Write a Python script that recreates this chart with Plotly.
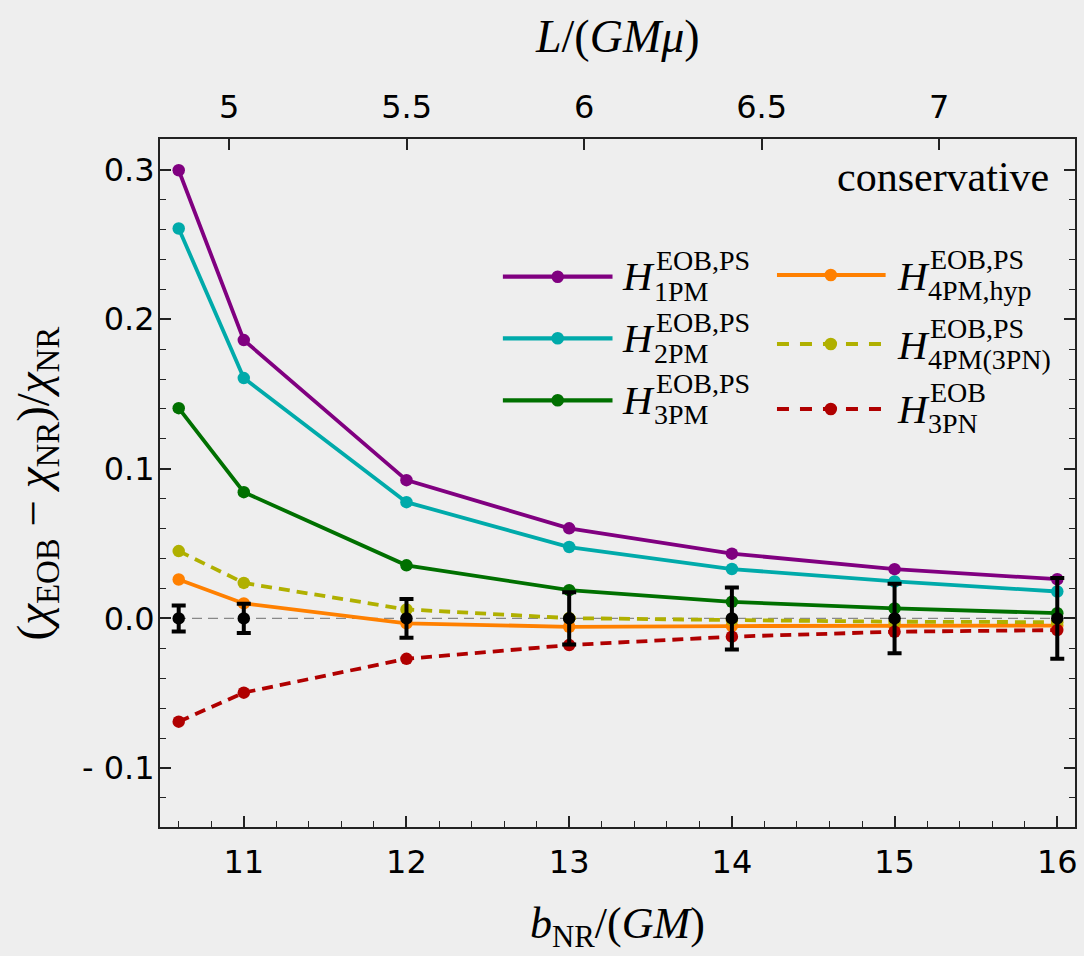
import plotly.graph_objects as go

# ---------------- data ----------------
b_nr = [10.6, 11, 12, 13, 14, 15, 16]
h_1pm = [0.2995, 0.186, 0.0924, 0.0602, 0.0433, 0.0329, 0.0262]
h_2pm = [0.2606, 0.1606, 0.0777, 0.0477, 0.0330, 0.0247, 0.0180]
h_3pm = [0.1405, 0.0844, 0.0355, 0.0189, 0.0111, 0.0067, 0.0035]
h_4pm_hyp = [0.0260, 0.0100, -0.0033, -0.0056, -0.0051, -0.0050, -0.0048]
h_4pm_3pn = [0.0450, 0.0237, 0.0060, 0.0002, -0.0011, -0.0022, -0.0025]
h_3pn = [-0.0690, -0.0496, -0.0270, -0.0178, -0.0122, -0.0089, -0.0078]
nr_val = [0, 0, 0, 0, 0, 0, 0]
nr_err = [0.0087, 0.0098, 0.0130, 0.0175, 0.0207, 0.0232, 0.0270]

x_ticks = [11, 12, 13, 14, 15, 16]
y_ticks = [-0.1, 0.0, 0.1, 0.2, 0.3]
y_ticktext = ["- 0.1", "0.0", "0.1", "0.2", "0.3"]
L_ticks = [5, 5.5, 6, 6.5, 7]
L_ticktext = ["5", "5.5", "6", "6.5", "7"]

# ---------------- layout geometry ----------------
W, H = 1084, 956
ML, MR, MT, MB = 160, 6, 139, 129
PW = W - ML - MR
PH = H - MT - MB


def px(xpix):
    return (xpix - ML) / PW


def py(ypix):
    return (H - MB - ypix) / PH


BG = "#eeeeee"
AX = "#222222"
SERIF = "Liberation Serif"
SANS = "DejaVu Sans"

series = [
    # values, color, dash, sup, sub
    (h_1pm, "#800080", "solid", "EOB,PS", "1PM"),
    (h_2pm, "#00aaaa", "solid", "EOB,PS", "2PM"),
    (h_3pm, "#007000", "solid", "EOB,PS", "3PM"),
    (h_4pm_hyp, "#ff8000", "solid", "EOB,PS", "4PM,hyp"),
    (h_4pm_3pn, "#b0b000", "11px,7px", "EOB,PS", "4PM(3PN)"),
    (h_3pn, "#b00000", "11px,7px", "EOB", "3PN"),
]

fig = go.Figure()

# invisible trace to register the top axis
fig.add_trace(go.Scatter(x=[], y=[], xaxis="x2", yaxis="y", showlegend=False,
                         hoverinfo="skip"))

for vals, col, dash, sup, sub in series:
    fig.add_trace(go.Scatter(
        x=b_nr, y=vals, mode="lines+markers",
        line=dict(color=col, width=3.8, dash=dash),
        marker=dict(color=col, size=12.5),
        showlegend=False,
        name=f"H {sub}",
    ))

fig.add_trace(go.Scatter(
    x=b_nr, y=nr_val, mode="markers",
    marker=dict(color="black", size=12.5),
    error_y=dict(type="data", array=nr_err, color="black", thickness=4, width=7),
    showlegend=False, name="NR",
))

shapes = []
annotations = []

# dashed zero line
shapes.append(dict(type="line", xref="paper", yref="y", x0=0, x1=1, y0=0, y1=0,
                   line=dict(color="#888888", width=1.2, dash="10px,6px"), layer="below"))

# ---------------- custom legend ----------------
leg_pos = [
    # line x0, x1, marker x, line y, H left, H center y
    (504, 614, 559, 276.7, 622, 276.3),
    (504, 614, 559, 338.3, 622, 338.0),
    (504, 614, 559, 400.3, 622, 399.7),
    (779, 888, 833, 275.0, 897, 275.5),
    (779, 888, 833, 344.0, 897, 344.5),
    (779, 888, 833, 409.0, 897, 408.7),
]
for (vals, col, dash, sup, sub), (lx0, lx1, mx, ly, hx, hy) in zip(series, leg_pos):
    ldash = "solid" if dash == "solid" else "12px,11px"
    shapes.append(dict(type="line", xref="paper", yref="paper",
                       x0=px(lx0), x1=px(lx1), y0=py(ly), y1=py(ly),
                       line=dict(color=col, width=4.2, dash=ldash)))
    r = 6.3
    shapes.append(dict(type="circle", xref="paper", yref="paper",
                       x0=px(mx - r), x1=px(mx + r), y0=py(ly + r), y1=py(ly - r),
                       fillcolor=col, line=dict(color=col, width=0)))
    annotations.append(dict(text="<i>H</i>", xref="paper", yref="paper",
                            x=px(hx), y=py(hy), xanchor="left", yanchor="middle",
                            showarrow=False, font=dict(family=SERIF, size=41, color="black")))
    annotations.append(dict(text=sup, xref="paper", yref="paper",
                            x=px(hx + 34), y=py(hy - 16), xanchor="left", yanchor="middle",
                            showarrow=False, font=dict(family=SERIF, size=28, color="black")))
    annotations.append(dict(text=sub, xref="paper", yref="paper",
                            x=px(hx + 32), y=py(hy + 15), xanchor="left", yanchor="middle",
                            showarrow=False, font=dict(family=SERIF, size=28, color="black")))

# "conservative"
annotations.append(dict(text="conservative", xref="paper", yref="paper",
                        x=px(1054), y=py(177), xanchor="right", yanchor="middle",
                        showarrow=False, font=dict(family=SERIF, size=42, color="black")))

# axis titles
annotations.append(dict(text="<i>b</i><sub>NR</sub>/(<i>GM</i>)", xref="paper", yref="paper",
                        x=px(619), y=py(926), xanchor="center", yanchor="middle",
                        showarrow=False, font=dict(family=SERIF, size=44, color="black")))
annotations.append(dict(text="<i>L</i>/(<i>GMμ</i>)", xref="paper", yref="paper",
                        x=px(619), y=py(36), xanchor="center", yanchor="middle",
                        showarrow=False, font=dict(family=SERIF, size=46, color="black")))
annotations.append(dict(text="(<i>χ</i><sub>EOB</sub> − <i>χ</i><sub>NR</sub>)/<i>χ</i><sub>NR</sub>",
                        xref="paper", yref="paper", textangle=-90,
                        x=px(36), y=py(483), xanchor="center", yanchor="middle",
                        showarrow=False, font=dict(family=SERIF, size=47, color="black")))

tickfont = dict(family=SANS, size=32, color="black")

fig.update_layout(
    width=W, height=H,
    margin=dict(l=ML, r=MR, t=MT, b=MB, pad=0),
    paper_bgcolor=BG, plot_bgcolor=BG,
    showlegend=False,
    shapes=shapes,
    annotations=annotations,
    xaxis=dict(
        range=[10.485, 16.109], tickvals=x_ticks, ticks="inside", ticklen=11, tickwidth=1.5,
        tickcolor=AX, showline=True, linecolor=AX, linewidth=2, mirror=False,
        showgrid=False, zeroline=False, tickfont=tickfont, ticklabelstandoff=6,
        minor=dict(dtick=0.2, tick0=10, ticks="inside", ticklen=6, tickwidth=1.2, tickcolor=AX,
                   showgrid=False),
    ),
    xaxis2=dict(
        overlaying="x", side="top", range=[4.805, 7.383], tickvals=L_ticks, ticktext=L_ticktext,
        ticks="inside", ticklen=11, tickwidth=1.5, tickcolor=AX, showline=True, linecolor=AX,
        linewidth=2, showgrid=False, zeroline=False, tickfont=tickfont, ticklabelstandoff=6,
    ),
    yaxis=dict(
        range=[-0.1394, 0.3204], tickvals=y_ticks, ticktext=y_ticktext, ticks="inside",
        ticklen=11, tickwidth=1.5, tickcolor=AX, showline=True, linecolor=AX, linewidth=2,
        mirror="ticks", showgrid=False, zeroline=False, tickfont=tickfont, ticklabelstandoff=-3,
        minor=dict(dtick=0.02, tick0=0, ticks="inside", ticklen=6, tickwidth=1.2, tickcolor=AX,
                   showgrid=False),
    ),
)

fig.write_html("out.html", config={"displayModeBar": False},
               post_script="document.body.style.margin='0';")
